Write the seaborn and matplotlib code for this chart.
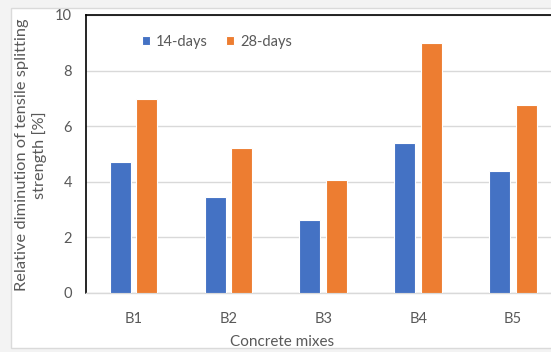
import matplotlib
matplotlib.use('Agg')
import matplotlib.pyplot as plt
from matplotlib.patches import Rectangle
import pandas as pd
import seaborn as sns

# データ
mixes = ['B1', 'B2', 'B3', 'B4', 'B5']
days_14 = [4.72, 3.44, 2.63, 5.40, 4.39]
days_28 = [6.98, 5.21, 4.05, 8.98, 6.78]
series_names = ['14-days', '28-days']
colors = ['#4472C4', '#ED7D31']
y_ticks = [0, 2, 4, 6, 8, 10]

df = pd.DataFrame({
    'mix': mixes * 2,
    'value': days_14 + days_28,
    'series': [series_names[0]] * len(mixes) + [series_names[1]] * len(mixes),
})

sns.set_style('white')
plt.rcParams['font.family'] = ['Lato', 'DejaVu Sans']

W, H = 551, 352
fig = plt.figure(figsize=(W / 100, H / 100), dpi=100, facecolor='#f3f3f3')

# 白いチャート領域（軸より下に描く）
panel = Rectangle((11 / W, 1 - 348 / H), 1.0, (348 - 8) / H, transform=fig.transFigure,
                  facecolor='white', edgecolor='#dadada', linewidth=1.0, zorder=-10)
fig.patches.append(panel)

ax = fig.add_axes([86 / W, 1 - 293 / H, (560.5 - 86) / W, (293 - 15) / H])
ax.set_zorder(1)
ax.set_facecolor('white')

sns.barplot(data=df, x='mix', y='value', hue='series', palette=colors,
            width=0.56, gap=0.21, edgecolor='white', linewidth=0.8,
            saturation=1, ax=ax, zorder=3)

ax.set_ylim(0, 10)
ax.set_yticks(y_ticks)
ax.set_xlim(-0.5, len(mixes) - 0.5)
ax.grid(axis='y', color='#d9d9d9', linewidth=1.0, zorder=0)
ax.set_axisbelow(True)

for side in ['left', 'top']:
    ax.spines[side].set_color('black')
    ax.spines[side].set_linewidth(1.2)
ax.spines['bottom'].set_color('#d9d9d9')
ax.spines['bottom'].set_linewidth(1.0)
ax.spines['right'].set_visible(False)

ax.tick_params(axis='both', length=0, labelsize=10.5, labelcolor='#595959')
ax.tick_params(axis='x', pad=14)
ax.tick_params(axis='y', pad=10)

ax.set_xlabel('')
ax.set_ylabel('')
fig.text(282 / W, 1 - 342 / H, 'Concrete mixes', ha='center', va='center',
         fontsize=11, color='#595959')
fig.text(31 / W, 1 - 155 / H, 'Relative diminution of tensile splitting\nstrength [%]',
         ha='center', va='center', rotation=90, fontsize=11.8, color='#595959',
         linespacing=1.3, multialignment='center')

leg = ax.legend(loc='center left', bbox_to_anchor=(0.105, 0.903), ncol=2, frameon=False,
                fontsize=10.5, handlelength=0.6, handleheight=0.6, handletextpad=0.4,
                columnspacing=1.2, borderaxespad=0)
for t in leg.get_texts():
    t.set_color('#595959')

fig.savefig('out.png', dpi=100, facecolor=fig.get_facecolor())
